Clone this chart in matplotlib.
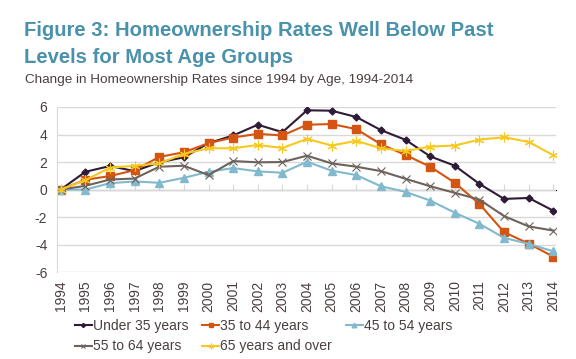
"""Figure 3: change in homeownership rates since 1994 by age."""

import matplotlib

matplotlib.use("Agg")

import matplotlib.pyplot as plt

TITLE_BLUE = "#4A91AB"
TEXT = "#4A3F3F"
GRID = "#D9D9D9"

years = list(range(1994, 2015))

under_35 = [0.0, 1.29, 1.71, 1.34, 1.98, 2.34, 3.37, 3.93, 4.71, 4.17,
            5.76, 5.73, 5.27, 4.32, 3.61, 2.41, 1.73, 0.41, -0.68, -0.61, -1.54]
age_35_44 = [0.0, 0.71, 0.98, 1.41, 2.37, 2.71, 3.37, 3.78, 4.05, 3.93,
             4.71, 4.76, 4.39, 3.29, 2.51, 1.66, 0.49, -1.05, -3.10, -3.93, -4.88]
age_45_54 = [0.0, 0.0, 0.46, 0.59, 0.49, 0.85, 1.29, 1.56, 1.32, 1.22,
             2.02, 1.37, 1.05, 0.24, -0.17, -0.80, -1.68, -2.49, -3.51, -3.95, -4.49]
age_55_64 = [0.0, 0.27, 0.73, 0.80, 1.66, 1.73, 1.05, 2.07, 1.98, 2.00,
             2.46, 1.90, 1.66, 1.34, 0.78, 0.24, -0.24, -0.73, -1.93, -2.68, -2.98]
age_65_up = [0.0, 0.68, 1.59, 1.73, 1.90, 2.59, 3.00, 3.00, 3.24, 3.02,
             3.68, 3.20, 3.54, 3.00, 2.80, 3.12, 3.20, 3.63, 3.80, 3.46, 2.49]

ASTERISK = (6, 2, 0)

series = [
    ("Under 35 years", under_35, "#2E1B36", "D", 3.5),
    ("35 to 44 years", age_35_44, "#D35511", "s", 5.5),
    ("45 to 54 years", age_45_54, "#82B9CC", "^", 5.5),
    ("55 to 64 years", age_55_64, "#6E625C", "x", 5.5),
    ("65 years and over", age_65_up, "#F7C81E", ASTERISK, 7.0),
]

plt.rcParams.update({
    "font.family": ["Liberation Sans", "DejaVu Sans"],
    "axes.unicode_minus": False,
    "text.color": TEXT,
    "xtick.color": TEXT,
    "ytick.color": TEXT,
})

fig = plt.figure(figsize=(5.76, 3.59), dpi=100)
ax = fig.add_axes([0.099, 0.242, 0.866, 0.46])

lines = {}
for label, values, color, marker, size in series:
    kw = dict(markerfacecolor=color, markeredgecolor=color)
    if marker in ("x", ASTERISK):
        kw = dict(markeredgecolor=color, markeredgewidth=0.8)
    (line,) = ax.plot(years, values, color=color, linewidth=1.5, marker=marker,
                      markersize=size, label=label, **kw)
    lines[label] = line

ax.set_xlim(years[0] - 0.15, years[-1] + 0.1)
ax.set_ylim(-6, 6)
ax.set_yticks(range(-6, 7, 2))
ax.grid(axis="y", color=GRID, linewidth=1.0)
ax.set_axisbelow(True)

for side in ("top", "right", "bottom"):
    ax.spines[side].set_visible(False)
ax.spines["left"].set_color(GRID)
ax.tick_params(axis="y", length=0, labelsize=10, pad=7)
ax.set_xticks(years)
ax.set_xticklabels([str(y) for y in years], rotation=90, fontsize=10)
ax.tick_params(axis="x", length=0, pad=6)

# zero line carries the year ticks
zero_axis = ax.secondary_xaxis(0.5)
zero_axis.set_xticks(years)
zero_axis.tick_params(axis="x", direction="out", length=4, color=GRID,
                      labelbottom=False, labeltop=False)
zero_axis.spines["bottom"].set_color(GRID)
zero_axis.spines["bottom"].set_linewidth(1.0)

fig.text(0.042, 0.90, "Figure 3: Homeownership Rates Well Below Past",
         fontsize=14.6, fontweight="bold", color=TITLE_BLUE, va="baseline")
fig.text(0.042, 0.825, "Levels for Most Age Groups",
         fontsize=14.6, fontweight="bold", color=TITLE_BLUE, va="baseline")
fig.text(0.043, 0.795, "Change in Homeownership Rates since 1994 by Age, 1994-2014",
         fontsize=9.7, color=TEXT, va="top")

# row-wise legend: matplotlib fills columns first
order = ["Under 35 years", "55 to 64 years", "35 to 44 years",
         "65 years and over", "45 to 54 years"]
ax.legend([lines[k] for k in order], order, loc="upper left",
          bbox_to_anchor=(0.036, -0.285), ncol=3, frameon=False, fontsize=10,
          handlelength=1.2, handletextpad=0.1, columnspacing=1.0,
          labelspacing=0.45, borderaxespad=0, borderpad=0, markerscale=0.6)

fig.savefig("out.png", dpi=100)
